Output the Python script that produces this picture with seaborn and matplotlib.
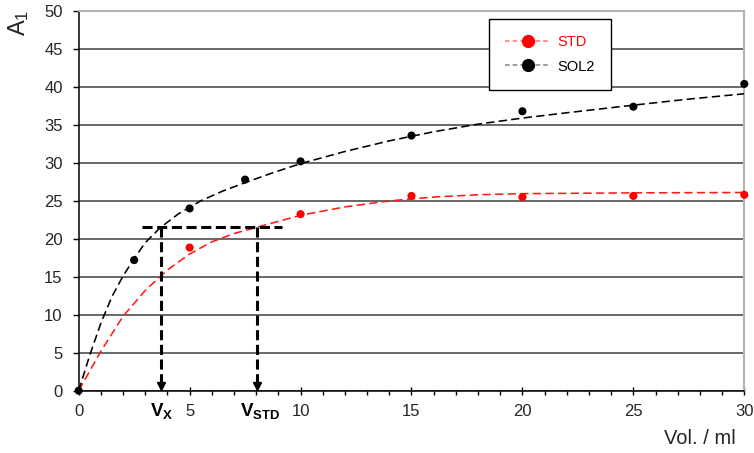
import matplotlib
matplotlib.use("Agg")
import matplotlib.pyplot as plt
import matplotlib.transforms as mtransforms
from matplotlib.lines import Line2D
from matplotlib.ticker import MultipleLocator
import seaborn as sns
import pandas as pd

# ---- data ----
vol_std = [5, 10, 15, 20, 25, 30]
a_std = [18.85, 23.25, 25.65, 25.5, 25.65, 25.8]

vol_sol2 = [0, 2.5, 5, 7.5, 10, 15, 20, 25, 30]
a_sol2 = [0, 17.2, 24.0, 27.8, 30.2, 33.6, 36.8, 37.4, 40.4]

# dashed trend curves
curve_x_std = [0, 1, 2, 3, 4, 5, 6, 7, 8, 10, 12, 14, 16, 18, 20, 25, 30]
curve_y_std = [0, 5.2, 9.8, 13.2, 15.9, 18.0, 19.6, 20.7, 21.5, 23.1, 24.2,
               25.0, 25.5, 25.8, 25.95, 26.05, 26.1]
curve_x_sol2 = [0, 0.5, 1, 1.5, 2, 2.5, 3, 3.69, 4.5, 5.5, 6.5, 7.5, 8.75, 10,
                12, 14, 16, 18, 20, 22, 25, 27.5, 30]
curve_y_sol2 = [0, 4.7, 8.9, 12.4, 15.1, 17.4, 19.5, 21.5, 23.3, 25.0, 26.3,
                27.4, 28.7, 29.9, 31.5, 32.9, 34.1, 35.1, 35.9, 36.6, 37.6,
                38.4, 39.1]

# graphical construction
level_a = 21.5
h_line_x = [2.84, 9.15]
v_x = 3.69
v_std = 8.02
series_names = ["STD", "SOL2"]
x_ticks = [0, 5, 10, 15, 20, 25, 30]
y_ticks = [0, 5, 10, 15, 20, 25, 30, 35, 40, 45, 50]

# ---- style ----
sns.set_theme(style="white")
plt.rcParams["font.family"] = ["Liberation Sans", "DejaVu Sans"]
plt.rcParams["mathtext.fontset"] = "custom"
plt.rcParams["mathtext.rm"] = "Liberation Sans"
plt.rcParams["mathtext.bf"] = "Liberation Sans:bold"
plt.rcParams["mathtext.it"] = "Liberation Sans:italic"

fig = plt.figure(figsize=(7.54, 4.53), dpi=100)
ax = fig.add_axes([78.7 / 754, 1 - 390.7 / 453, (744.3 - 78.7) / 754, (390.7 - 11) / 453])

df_std = pd.DataFrame({"vol": vol_std, "a": a_std})
df_sol2 = pd.DataFrame({"vol": vol_sol2, "a": a_sol2})
df_cstd = pd.DataFrame({"vol": curve_x_std, "a": curve_y_std})
df_csol2 = pd.DataFrame({"vol": curve_x_sol2, "a": curve_y_sol2})

dash = (0, (5.2, 2.7))
sns.lineplot(data=df_cstd, x="vol", y="a", ax=ax, color="#ff1a1a", lw=1.15,
             linestyle=dash, sort=False, estimator=None, zorder=3)
sns.lineplot(data=df_csol2, x="vol", y="a", ax=ax, color="black", lw=1.15,
             linestyle=dash, sort=False, estimator=None, zorder=3)

sns.scatterplot(data=df_std, x="vol", y="a", ax=ax, color="red", s=34,
                edgecolor="none", zorder=5, legend=False, clip_on=False)
sns.scatterplot(data=df_sol2, x="vol", y="a", ax=ax, color="black", s=34,
                edgecolor="none", zorder=6, legend=False, clip_on=False)

# construction lines
thick = (0, (3.3, 1.5))
ax.plot(h_line_x, [level_a, level_a], color="black", lw=2.2, linestyle=thick, zorder=4)
tip_tr = mtransforms.offset_copy(ax.transData, fig=fig, x=0, y=3.1, units="points")
for v in (v_x, v_std):
    ax.plot([v, v], [level_a, 1.2], color="black", lw=2.2, linestyle=thick, zorder=4)
    ax.plot([v], [0], marker="v", ms=6.3, color="black", transform=tip_tr,
            clip_on=False, zorder=7)

ax.annotate(r"$\mathbf{V}_{\mathbf{X}}$", xy=(v_x, 0), xycoords="data",
            xytext=(0.5, -7.5), textcoords="offset points", ha="center", va="top",
            fontsize=13.5, color="black")
ax.annotate(r"$\mathbf{V}_{\mathbf{STD}}$", xy=(v_std, 0), xycoords="data",
            xytext=(2.5, -7.5), textcoords="offset points", ha="center", va="top",
            fontsize=13.5, color="black")

# axes
ax.set_xlim(0, 30)
ax.set_ylim(0, 50)
ax.set_xticks(x_ticks)
ax.set_yticks(y_ticks)
ax.xaxis.set_minor_locator(MultipleLocator(1))
ax.tick_params(axis="y", which="major", direction="out", length=4, width=1,
               color="black", pad=7.5, labelsize=12, labelcolor="#262626", left=True)
ax.tick_params(axis="x", which="major", direction="inout", length=6, width=1,
               color="black", pad=6.5, labelsize=12, labelcolor="#262626", bottom=True)
ax.tick_params(axis="x", which="minor", direction="out", length=3, width=1,
               color="black", bottom=True)

ax.set_axisbelow(True)
ax.yaxis.grid(True, color="#404040", lw=1.1)
ax.xaxis.grid(False)
for side in ("left", "bottom"):
    ax.spines[side].set_color("black")
    ax.spines[side].set_linewidth(1.1)
for side in ("top", "right"):
    ax.spines[side].set_visible(True)
    ax.spines[side].set_color("#b4b4b4")
    ax.spines[side].set_linewidth(1.5)

ax.set_ylabel(r"$\mathregular{A_1}$", fontsize=17, rotation=90, ha="center", va="center",
              color="#262626")
ax.yaxis.set_label_coords((19 - 78.7) / 665.6, (390.7 - 23) / 379.7)
ax.set_xlabel("Vol. / ml", fontsize=14.5, ha="center", va="center", color="#262626")
ax.xaxis.set_label_coords((700 - 78.7) / 665.6, (390.7 - 438) / 379.7)

handles = [
    Line2D([], [], color="#ff7070", lw=1.1, linestyle=(0, (3, 2)), marker="o",
           ms=8.5, mfc="red", mec="red"),
    Line2D([], [], color="#808080", lw=1.1, linestyle=(0, (3, 2)), marker="o",
           ms=8.5, mfc="black", mec="black"),
]
leg = ax.legend(handles, series_names, loc="upper left",
                bbox_to_anchor=(489.3 / 754, 1 - 19.3 / 453),
                bbox_transform=fig.transFigure, borderaxespad=0,
                frameon=True, fancybox=False, framealpha=1, edgecolor="black",
                fontsize=10.5, labelcolor=["red", "black"], handlelength=3.1,
                handletextpad=0.45, borderpad=1.1, labelspacing=0.7)
leg.get_frame().set_linewidth(1.0)
leg.set_zorder(10)

fig.savefig("out.png", dpi=100)
